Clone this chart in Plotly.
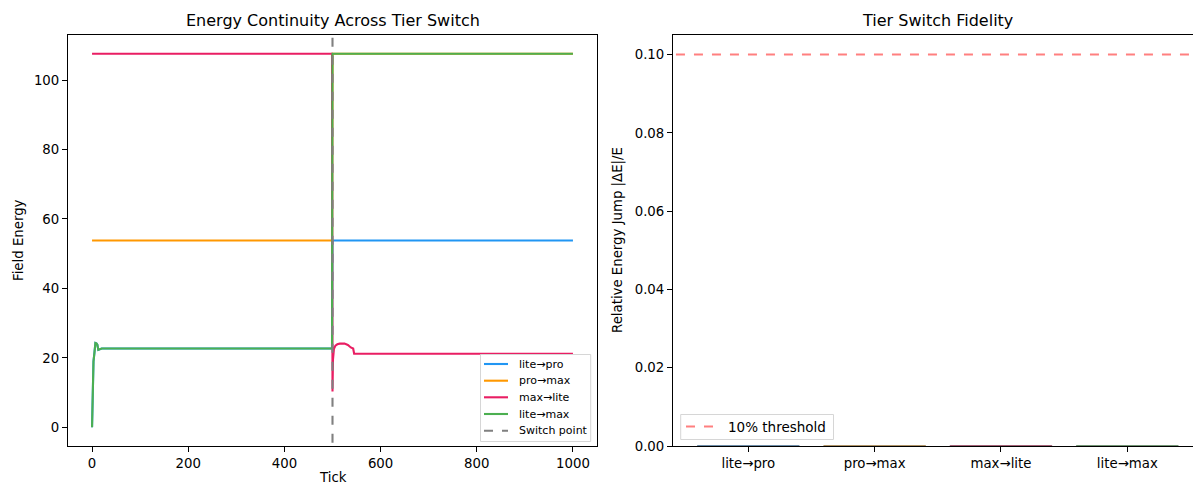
import plotly.graph_objects as go

# ---------------- data ----------------
series_names = ["lite→pro", "pro→max", "max→lite", "lite→max"]
series_colors = ["#2196F3", "#FF9800", "#E91E63", "#4CAF50"]

ticks_lite_pro = [0, 1, 3, 5, 7, 9, 11, 13, 20, 499, 500, 1000]
energy_lite_pro = [0.0, 8.0, 19.0, 21.5, 24.3, 24.2, 23.8, 22.3, 22.7, 22.7, 53.8, 53.8]

ticks_pro_max = [0, 499, 500, 1000]
energy_pro_max = [53.8, 53.8, 107.6, 107.6]

ticks_max_lite = [0, 499, 500, 501, 503, 506, 510, 515, 525, 532, 538, 543, 545, 1000]
energy_max_lite = [107.6, 107.6, 10.3, 19.5, 22.6, 23.5, 23.9, 24.1, 24.1, 23.7, 23.0, 22.7, 21.2, 21.2]

ticks_lite_max = [0, 1, 3, 5, 7, 9, 11, 13, 20, 499, 500, 1000]
energy_lite_max = [0.0, 8.0, 19.0, 21.5, 24.3, 24.2, 23.8, 22.3, 22.7, 22.7, 107.6, 107.6]

switch_tick = 500
switch_label = "Switch point"

bar_categories = ["lite→pro", "pro→max", "max→lite", "lite→max"]
bar_jumps = [0.00004, 0.00003, 0.00005, 0.00004]
threshold = 0.10
threshold_label = "10% threshold"

# ---------------- styling ----------------
W, H = 1193, 486
FONT = "DejaVu Sans"
bar_edge_colors = ["#3d5f80", "#8a6220", "#7a2b45", "#3f6a40"]

def px_x(p):
    return p / W

def px_y(p):
    return 1 - p / H

fig = go.Figure()

line_ticks = [ticks_lite_pro, ticks_pro_max, ticks_max_lite, ticks_lite_max]
line_vals = [energy_lite_pro, energy_pro_max, energy_max_lite, energy_lite_max]
for name, color, xs, ys in zip(series_names, series_colors, line_ticks, line_vals):
    fig.add_trace(go.Scatter(
        x=xs, y=ys, mode="lines", name=name, showlegend=False,
        line=dict(color=color, width=2.1),
        xaxis="x", yaxis="y",
    ))

fig.add_trace(go.Scatter(
    x=[switch_tick, switch_tick], y=[-20, 130], mode="lines", name=switch_label,
    showlegend=False,
    line=dict(color="rgba(128,128,128,1)", width=2.1, dash="dash"),
    xaxis="x", yaxis="y",
))

# right panel bars
fig.add_trace(go.Bar(
    x=list(range(len(bar_categories))), y=bar_jumps, width=0.8,
    marker=dict(color=series_colors, opacity=0.9,
                line=dict(color=bar_edge_colors, width=1.3)),
    showlegend=False, xaxis="x2", yaxis="y2",
))
fig.add_trace(go.Scatter(
    x=[-1, len(bar_categories)], y=[threshold, threshold], mode="lines",
    name=threshold_label, showlegend=False,
    line=dict(color="rgba(255,0,0,0.5)", width=2.1, dash="dash"),
    xaxis="x2", yaxis="y2",
))

axis_common = dict(
    showline=True, linecolor="black", linewidth=1.1,
    ticks="outside", ticklen=5, tickwidth=1.1, tickcolor="black",
    showgrid=False, zeroline=False, automargin=False,
    tickfont=dict(family=FONT, size=13.3, color="black"),
)

left_x0, left_x1 = 68, 597
right_x0, right_x1 = 673, 1193
top_y, bot_y = 35, 446

shapes = []
annotations = []

# ---- manual legend (left) ----
lg_left, lg_right, lg_top, lg_bot = 480.5, 590.7, 354.5, 441.5
shapes.append(dict(type="rect", xref="paper", yref="paper",
                   x0=px_x(lg_left), x1=px_x(lg_right), y0=px_y(lg_bot), y1=px_y(lg_top),
                   line=dict(color="#d6d6d6", width=1), fillcolor="rgba(255,255,255,0.8)",
                   layer="above"))
leg_names = series_names + [switch_label]
leg_colors = series_colors + ["rgb(128,128,128)"]
leg_dash = ["solid"] * 4 + ["dash"]
row_y = [364, 380.7, 397.3, 414, 430.7]
for nm, col, ds, ry in zip(leg_names, leg_colors, leg_dash, row_y):
    shapes.append(dict(type="line", xref="paper", yref="paper",
                       x0=px_x(484), x1=px_x(508), y0=px_y(ry), y1=px_y(ry),
                       line=dict(color=col, width=2.1, dash=ds), layer="above"))
    annotations.append(dict(text=nm, x=px_x(516.5), y=px_y(ry), xref="paper", yref="paper",
                            showarrow=False, xanchor="left", yanchor="middle",
                            font=dict(family=FONT, size=11, color="black")))

# ---- manual legend (right) ----
shapes.append(dict(type="rect", xref="paper", yref="paper",
                   x0=px_x(680.7), x1=px_x(833.5), y0=px_y(439.5), y1=px_y(414.5),
                   line=dict(color="#d6d6d6", width=1), fillcolor="rgba(255,255,255,0.8)",
                   layer="above"))
shapes.append(dict(type="line", xref="paper", yref="paper",
                   x0=px_x(686), x1=px_x(715), y0=px_y(426.5), y1=px_y(426.5),
                   line=dict(color="rgba(255,0,0,0.5)", width=2.1, dash="dash"), layer="above"))
annotations.append(dict(text=threshold_label, x=px_x(725.5), y=px_y(426.5), xref="paper",
                        yref="paper", showarrow=False, xanchor="left", yanchor="middle",
                        font=dict(family=FONT, size=13.5, color="black")))

# ---- titles / axis labels ----
annotations += [
    dict(text="Energy Continuity Across Tier Switch", x=px_x((left_x0 + left_x1) / 2),
         y=px_y(20), xref="paper", yref="paper", showarrow=False,
         xanchor="center", yanchor="middle", font=dict(family=FONT, size=16)),
    dict(text="Tier Switch Fidelity", x=px_x((right_x0 + 1201) / 2),
         y=px_y(20), xref="paper", yref="paper", showarrow=False,
         xanchor="center", yanchor="middle", font=dict(family=FONT, size=16)),
    dict(text="Tick", x=px_x((left_x0 + left_x1) / 2), y=px_y(477),
         xref="paper", yref="paper", showarrow=False,
         xanchor="center", yanchor="middle", font=dict(family=FONT, size=13.3)),
    dict(text="Field Energy", x=px_x(18), y=px_y(240), textangle=-90,
         xref="paper", yref="paper", showarrow=False,
         xanchor="center", yanchor="middle", font=dict(family=FONT, size=13.3)),
    dict(text="Relative Energy Jump |ΔE|/E", x=px_x(618), y=px_y(240), textangle=-90,
         xref="paper", yref="paper", showarrow=False,
         xanchor="center", yanchor="middle", font=dict(family=FONT, size=13.3)),
]

fig.update_layout(
    template="none",
    width=W, height=H, autosize=False,
    margin=dict(l=0, r=0, t=0, b=0, pad=0, autoexpand=False),
    paper_bgcolor="white", plot_bgcolor="white",
    font=dict(family=FONT, size=13, color="black"),
    showlegend=False,
    xaxis=dict(domain=[px_x(left_x0), px_x(left_x1)], range=[-50, 1050],
               tickvals=[0, 200, 400, 600, 800, 1000], mirror=True, anchor="y",
               **axis_common),
    yaxis=dict(domain=[px_y(bot_y), px_y(top_y)], range=[-5.38, 112.98],
               tickvals=[0, 20, 40, 60, 80, 100], mirror=True, anchor="x",
               **axis_common),
    xaxis2=dict(domain=[px_x(right_x0), px_x(right_x1)], range=[-0.596, 3.52],
                tickvals=list(range(len(bar_categories))), ticktext=bar_categories,
                mirror=True, anchor="y2", layer="below traces", **axis_common),
    yaxis2=dict(domain=[px_y(bot_y), px_y(top_y)], range=[0, 0.105],
                tickvals=[0, 0.02, 0.04, 0.06, 0.08, 0.10], tickformat=".2f",
                anchor="x2", **axis_common),
    bargap=0.2,
    shapes=shapes,
    annotations=annotations,
)

fig.write_html("out.html")
